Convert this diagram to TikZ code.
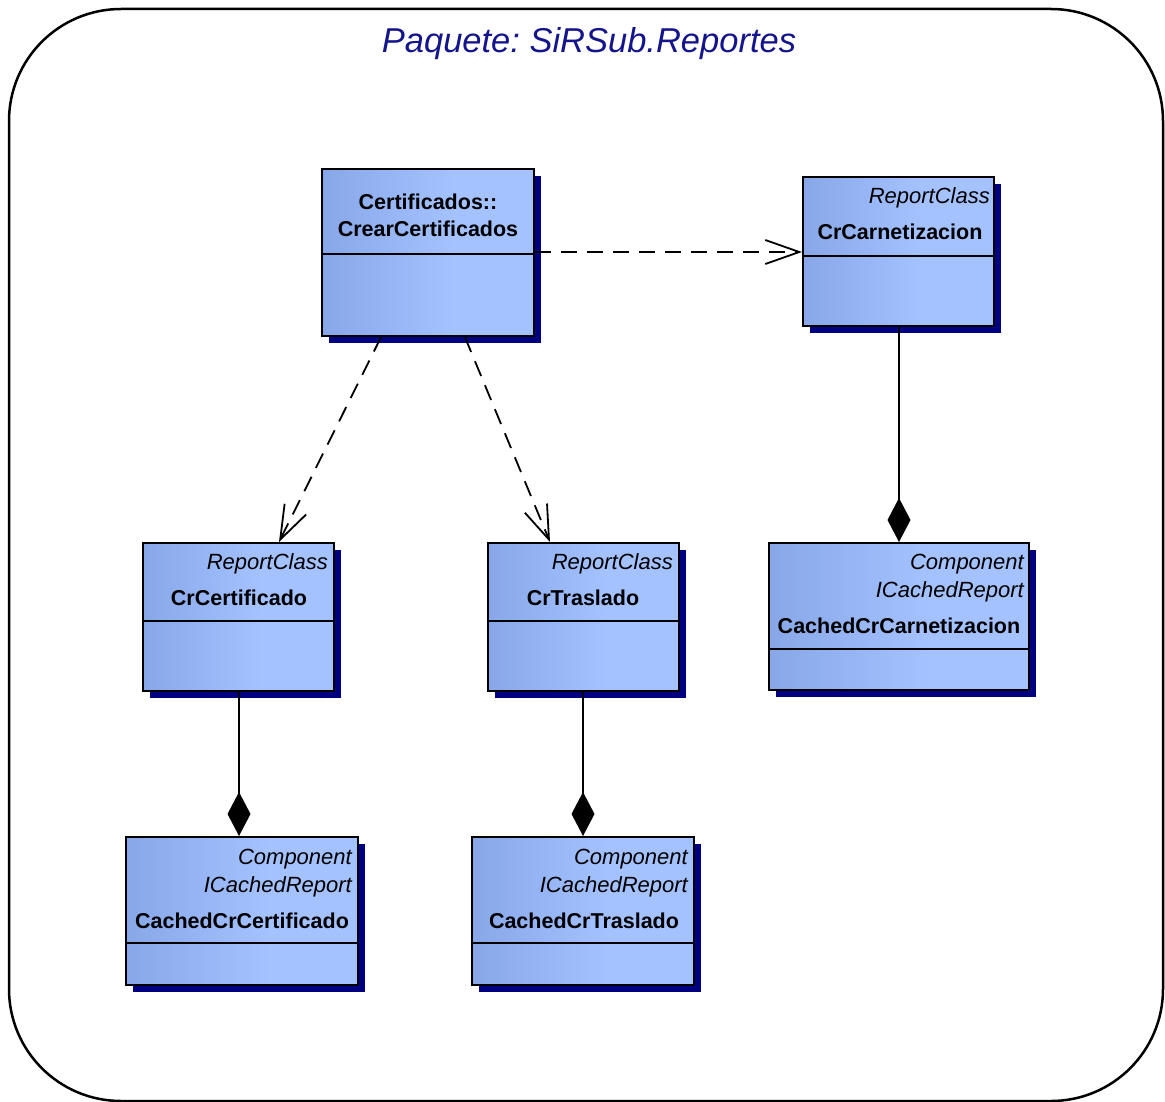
\documentclass[tikz,border=0pt]{standalone}
\usepackage{fontspec}
\setmainfont{Liberation Sans}
\usetikzlibrary{arrows.meta,shadows}
\definecolor{navyshadow}{RGB}{0,0,128}
\definecolor{boxdark}{RGB}{136,167,232}
\definecolor{boxlight}{RGB}{164,194,255}
\definecolor{titleblue}{RGB}{20,20,140}
\pgfdeclarehorizontalshading{boxshade}{100bp}{color(0bp)=(boxdark); color(25bp)=(boxdark); color(56bp)=(boxlight); color(100bp)=(boxlight)}
\frenchspacing
\tikzset{
  classbox/.style={draw=black, line width=2.2pt, shading=boxshade, shading angle=0,
    drop shadow={shadow xshift=7pt, shadow yshift=-7pt, fill=navyshadow, opacity=1},
    inner sep=0pt, anchor=north west},
  divider/.style={draw=black, line width=2pt},
  nametext/.style={font=\fontsize{21.5}{25}\selectfont\bfseries, inner sep=0pt},
  stereotext/.style={font=\fontsize{22}{26}\selectfont\itshape, inner sep=0pt, anchor=east},
  depend/.style={draw=black, line width=1.8pt, dash pattern=on 16pt off 10pt,
    -{Straight Barb[length=34pt,width=24pt,line width=1.8pt]}},
  compose/.style={draw=black, line width=1.8pt,
    -{Diamond[length=44pt,width=23pt,fill=black]}},
}
\begin{document}
\begin{tikzpicture}[x=1pt,y=-1pt]
\useasboundingbox (0,0) rectangle (1165,1102);
% package frame
\draw[line width=2.5pt, rounded corners=112pt] (9,9) rectangle (1163,1101);
\node[font=\fontsize{34.5}{40}\selectfont\itshape, text=titleblue, inner sep=0pt] (title) at (589,44) {Paquete: SiRSub.Reportes};

% classes
\node[classbox, minimum width=212pt, minimum height=167pt] (A) at (321,168) {};
\node[classbox, minimum width=191pt, minimum height=149pt] (B) at (802,176) {};
\node[classbox, minimum width=191pt, minimum height=148pt] (C) at (142,542) {};
\node[classbox, minimum width=191pt, minimum height=148pt] (D) at (487,542) {};
\node[classbox, minimum width=260pt, minimum height=147pt] (E) at (768,542) {};
\node[classbox, minimum width=232pt, minimum height=148pt] (F) at (125,836) {};
\node[classbox, minimum width=222pt, minimum height=148pt] (G) at (471,836) {};

% dividers
\draw[divider] (A.west |- 0,254) -- (A.east |- 0,254);
\draw[divider] (B.west |- 0,256) -- (B.east |- 0,256);
\draw[divider] (C.west |- 0,621) -- (C.east |- 0,621);
\draw[divider] (D.west |- 0,621) -- (D.east |- 0,621);
\draw[divider] (E.west |- 0,649) -- (E.east |- 0,649);
\draw[divider] (F.west |- 0,943) -- (F.east |- 0,943);
\draw[divider] (G.west |- 0,943) -- (G.east |- 0,943);

% texts
\node[nametext] (A1) at (428,202) {Certificados::};
\node[nametext] (A2) at (428,229) {CrearCertificados};

\node[stereotext] (B1) at (990,198) {ReportClass};
\node[nametext] (B2) at (900,232) {CrCarnetizacion};

\node[stereotext] (C1) at (328,564) {ReportClass};
\node[nametext] (C2) at (239,598) {CrCertificado};

\node[stereotext] (D1) at (673,564) {ReportClass};
\node[nametext] (D2) at (583,598) {CrTraslado};

\node[stereotext] (E1) at (1024,564) {Component};
\node[stereotext] (E2) at (1024,592) {ICachedReport};
\node[nametext] (E3) at (899,626) {CachedCrCarnetizacion};

\node[stereotext] (F1) at (352,859) {Component};
\node[stereotext] (F2) at (352,887) {ICachedReport};
\node[nametext] (F3) at (242,921) {CachedCrCertificado};

\node[stereotext] (G1) at (688,859) {Component};
\node[stereotext] (G2) at (688,887) {ICachedReport};
\node[nametext] (G3) at (584,921) {CachedCrTraslado};

% connectors
\draw[depend] (A.east |- 0,252) -- (B.west |- 0,252);
\draw[depend] (A.south -| 381,0) -- (C.north -| 279,0);
\draw[depend] (A.south -| 465,0) -- (D.north -| 550,0);
\draw[compose] (B.south -| 899,0) -- (E.north -| 899,0);
\draw[compose] (C.south -| 239,0) -- (F.north -| 239,0);
\draw[compose] (D.south -| 583,0) -- (G.north -| 583,0);
\end{tikzpicture}
\end{document}
